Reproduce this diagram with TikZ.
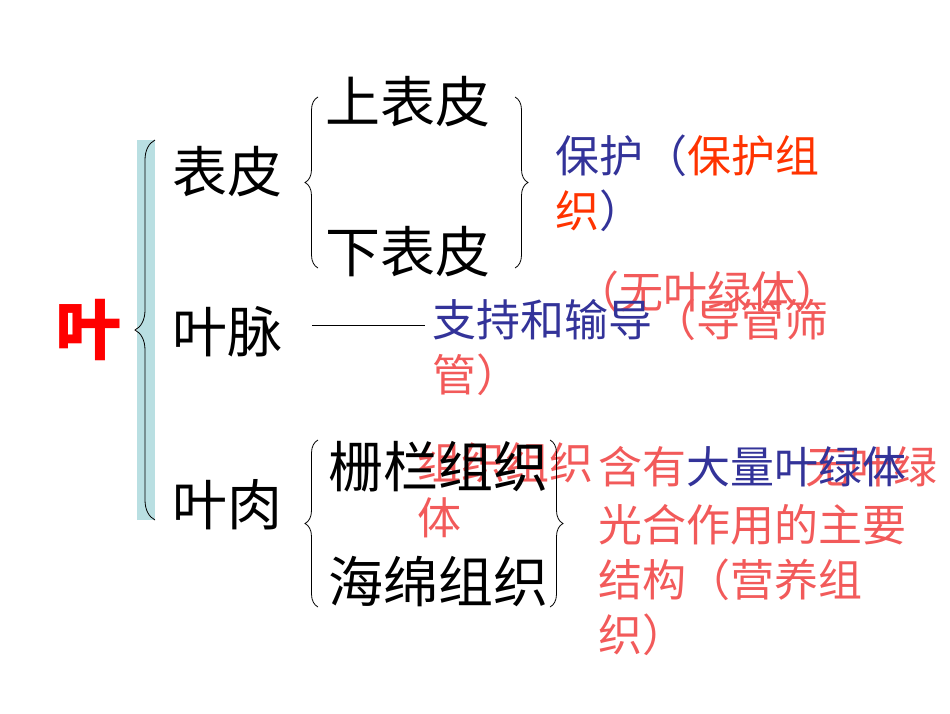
\documentclass[tikz,border=0pt]{standalone}
\usepackage{fontspec}
\newfontfamily\cjk{Noto Sans CJK SC}
\usetikzlibrary{decorations.pathreplacing}
\definecolor{bl}{HTML}{333399}
\definecolor{pk}{HTML}{F25A5A}
\definecolor{og}{HTML}{FF3300}
\definecolor{tb}{HTML}{B9DFE2}
\tikzset{x=1pt,y=-1pt,
 big/.style={anchor=west,inner sep=0,font=\cjk\fontsize{55}{55}\selectfont},
 mid/.style={anchor=west,inner sep=0,font=\cjk\fontsize{44}{55}\selectfont,align=left},
 br/.style={decorate,decoration={brace,amplitude=13pt},line width=0.8pt}}
\begin{document}
\begin{tikzpicture}
\useasboundingbox (0,0) rectangle (950,713);
\fill[tb] (137,140) rectangle (155,520);
\draw[br,decoration={amplitude=20pt}] (155,520) -- (155,140);
\node[inner sep=0,text=red,font=\cjk\bfseries\fontsize{66}{66}\selectfont] (ye) at (88,330) {叶};
\node[big] (bp) at (172,172) {表皮};
\node[big] (ym) at (172,332) {叶脉};
\node[big] (yr) at (172,505) {叶肉};
\draw[br] (318,268) -- (318,97);
\node[big] (sb) at (325,102) {上表皮};
\node[big] (xb) at (325,252) {下表皮};
\draw[br] (515,97) -- (515,268);
\node[mid] (bh) at (555,183) {\textcolor{bl}{保护（}\textcolor{og}{保护组}\\\textcolor{og}{织}\textcolor{bl}{）}};
\coordinate (l1) at (312,325);
\coordinate (l2) at (425,325);
\draw[line width=0.6pt] (l1) -- (l2);
\node[mid,text=pk] (wy) at (575,292) {（无叶绿体）};
\node[mid] (zc) at (432,347) {\textcolor{bl}{支持和输导}\textcolor{pk}{（导管筛}\\\textcolor{pk}{管）}};
\draw[br] (318,607) -- (318,440);
\node[mid,text=pk] (p1) at (417,490) {组织组织\\体};
\node[big] (zl) at (328,467) {栅栏组织};
\node[big] (hm) at (328,582) {海绵组织};
\draw[br] (550,440) -- (550,607);
\node[mid,text=pk] (p2) at (805,467) {无叶绿};
\node[mid] (hy) at (598,467) {\textcolor{pk}{含有}\textcolor{bl}{大量叶绿体}};
\node[mid,text=pk] (gh) at (598,580) {光合作用的主要\\结构（营养组\\织）};
\end{tikzpicture}
\end{document}
